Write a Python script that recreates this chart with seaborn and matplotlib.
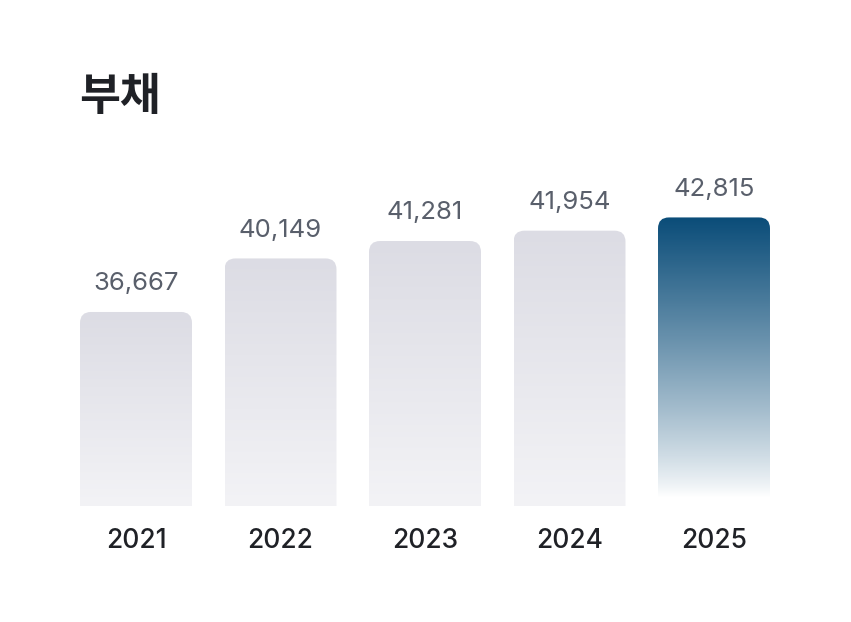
import numpy as np
import pandas as pd
import matplotlib
matplotlib.use("Agg")
import matplotlib.pyplot as plt
import seaborn as sns
from matplotlib.patches import FancyBboxPatch
from matplotlib.colors import LinearSegmentedColormap

years = ["2021", "2022", "2023", "2024", "2025"]
values = [36667, 40149, 41281, 41954, 42815]
labels = ["36,667", "40,149", "41,281", "41,954", "42,815"]
title = "부채"

sns.set_theme(style="white")
plt.rcParams['font.family'] = ['Inter', 'Noto Sans CJK KR', 'DejaVu Sans']

W, H = 851, 622
fig = plt.figure(figsize=(W / 100, H / 100), dpi=100)
ax_left, ax_right = 63.75, 786.25
ax_bottom_px, ax_top_px = 506, 150
ax = fig.add_axes([ax_left / W, (H - ax_bottom_px) / H,
                   (ax_right - ax_left) / W, (ax_bottom_px - ax_top_px) / H])

df = pd.DataFrame({"year": years, "value": values})
sns.barplot(data=df, x="year", y="value", ax=ax, width=0.775, color="#dddde5")

ymin, ymax = 24050, 47200
ax.set_xlim(-0.5, 4.5)
ax.set_ylim(ymin, ymax)

px_per_x = (ax_right - ax_left) / 5.0
px_per_y = (ax_bottom_px - ax_top_px) / (ymax - ymin)
r_px = 11
rx = r_px / px_per_x
ry = r_px / px_per_y

gray_cmap = LinearSegmentedColormap.from_list("g", ["#f3f3f6", "#dcdce4"])
blue_cmap = LinearSegmentedColormap.from_list("b2", ["#ffffff", "#0b4d79"])

grad = np.linspace(0, 1, 256).reshape(-1, 1)
for i, bar in enumerate(list(ax.patches)):
    x0 = bar.get_x()
    w = bar.get_width()
    top = bar.get_height()
    bar.set_visible(False)
    bottom = ymin - 3 * ry
    patch = FancyBboxPatch((x0, bottom), w, top - bottom,
                           boxstyle=f"round,pad=0,rounding_size={rx}",
                           mutation_aspect=ry / rx,
                           transform=ax.transData, facecolor="none", edgecolor="none")
    ax.add_patch(patch)
    if i == 4:
        g = np.linspace(0, 1, 256)
        g = np.clip((g - 0.03) / 0.97, 0, 1) ** 0.85
        im = ax.imshow(g.reshape(-1, 1), cmap=blue_cmap, vmin=0, vmax=1, aspect="auto",
                       extent=[x0, x0 + w, ymin, top], origin="lower",
                       interpolation="bicubic", zorder=2)
    else:
        im = ax.imshow(grad, cmap=gray_cmap, aspect="auto",
                       extent=[x0, x0 + w, ymin, top], origin="lower",
                       interpolation="bicubic", zorder=2)
    im.set_clip_path(patch)
    ax.annotate(labels[i], xy=(x0 + w / 2, top), xytext=(0, 15.5),
                textcoords="offset points", ha="center", va="baseline",
                fontsize=18.5, color="#595f6b", fontweight="normal")

ax.set_xlim(-0.5, 4.5)
ax.set_ylim(ymin, ymax)
ax.set_xlabel("")
ax.set_ylabel("")
ax.set_yticks([])
ax.tick_params(axis="x", length=0, pad=16, labelsize=19, labelcolor="#1f2126")
for lab in ax.get_xticklabels():
    lab.set_fontweight("medium")
for s in ax.spines.values():
    s.set_visible(False)
ax.set_facecolor("white")

fig.text(79 / W, 1 - 74 / H, title, ha="left", va="top", fontsize=32,
         fontweight="bold", color="#1f2126",
         family=["Noto Sans CJK KR", "DejaVu Sans"])

fig.savefig("out.png", dpi=100, facecolor="white")
